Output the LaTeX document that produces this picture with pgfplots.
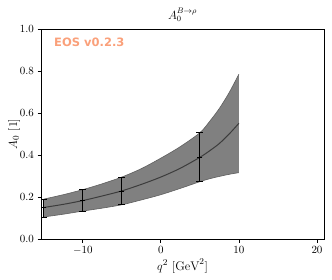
\documentclass[border=0pt]{standalone}
\usepackage{fontspec}
\usepackage{pgfplots}
\pgfplotsset{compat=1.18}
\usepgfplotslibrary{fillbetween}
\newfontfamily\eosfont{DejaVu Sans}
\definecolor{bandgray}{RGB}{128,128,128}
\definecolor{linegray}{RGB}{60,60,60}
\definecolor{edgegray}{RGB}{95,95,95}
\definecolor{eoscol}{RGB}{250,160,122}
\begin{document}
\begin{tikzpicture}
\begin{axis}[
  at={(0,0)}, anchor=south west,
  scale only axis, width=283pt, height=210pt,
  xmin=-15.35, xmax=20.9, ymin=0, ymax=1,
  xtick={-10,0,10,20},
  ytick={0,0.2,0.4,0.6,0.8,1.0},
  yticklabel style={/pgf/number format/.cd, fixed, fixed zerofill, precision=1},
  tick align=outside, tick pos=left,
  major tick length=3.5pt,
  axis line style={black, line width=0.8pt},
  tick style={black, line width=0.8pt},
  font=\fontsize{11.3}{13}\selectfont,
  title={$A_0^{B\to\rho}$},
  title style={at={(axis description cs:0.5,1)}, anchor=center, yshift=8pt, font=\fontsize{11.5}{14}\selectfont},
  xlabel={$q^2\ [\mathrm{GeV}^2]$},
  xlabel style={at={(axis description cs:0.5,-0.129)}, anchor=center, font=\fontsize{12.5}{14}\selectfont},
  ylabel={$A_0\ [1]$},
  ylabel style={at={(axis description cs:-0.095,0.5)}, anchor=center, font=\fontsize{12.5}{14}\selectfont},
]
\addplot[name path=upper, edgegray, line width=0.6pt, smooth] coordinates {
(-15,0.190) (-12.5,0.211) (-10,0.235) (-7.5,0.263) (-5,0.295) (-2.5,0.335)
(0,0.385) (2.5,0.440) (5,0.506) (6.25,0.560) (7.5,0.622) (8.75,0.697) (10,0.785)};
\addplot[name path=lower, edgegray, line width=0.6pt, smooth] coordinates {
(-15,0.105) (-12.5,0.118) (-10,0.133) (-7.5,0.147) (-5,0.163) (-2.5,0.186)
(0,0.211) (2.5,0.241) (5,0.273) (6.25,0.287) (7.5,0.298) (8.75,0.308) (10,0.316)};
\addplot[bandgray] fill between[of=upper and lower];
\addplot[linegray, line width=1pt, smooth] coordinates {
(-15,0.150) (-12.5,0.165) (-10,0.183) (-7.5,0.205) (-5,0.229) (-2.5,0.260)
(0,0.295) (2.5,0.337) (5,0.389) (6.25,0.420) (7.5,0.455) (8.75,0.500) (10,0.551)};
\addplot[black, only marks, mark=-, mark size=2.5pt, line width=0.8pt,
  error bars/.cd, y dir=both, y explicit,
  error bar style={black, line width=0.9pt},
  error mark options={rotate=90, mark size=3.5pt, line width=0.9pt}]
  table[x=x, y=y, y error plus=ep, y error minus=em] {
x y ep em
-15 0.149 0.041 0.044
-10 0.183 0.052 0.050
-5 0.229 0.066 0.066
5 0.389 0.117 0.116
};
\node[anchor=west, inner sep=0pt, text=eoscol, font=\eosfont\bfseries\fontsize{11.5}{13}\selectfont]
  at (rel axis cs:0.046,0.938) {EOS v0.2.3};
\end{axis}
\pgfresetboundingbox
\path[use as bounding box] (-41pt,-40pt) rectangle (291pt,239pt);
\end{tikzpicture}
\end{document}
